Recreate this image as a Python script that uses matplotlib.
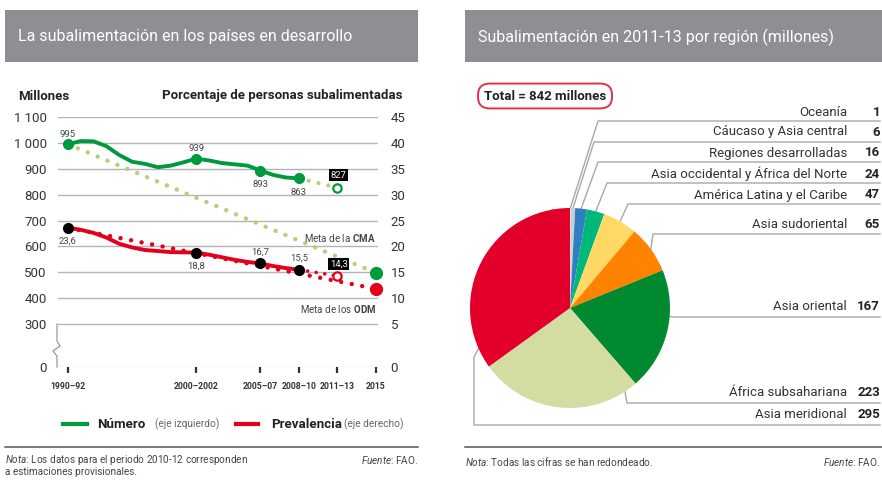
import numpy as np
import matplotlib
matplotlib.use("Agg")
from matplotlib import pyplot as plt
from matplotlib.patches import Rectangle

plt.rcParams['font.family'] = ['Roboto', 'DejaVu Sans']
plt.rcParams['mathtext.fontset'] = 'custom'
plt.rcParams['mathtext.rm'] = 'Roboto'
plt.rcParams['mathtext.it'] = 'Roboto:italic'
plt.rcParams['mathtext.bf'] = 'Roboto:bold'

# ---- left chart data ----
years = [1991, 1992, 1993, 1994, 1995, 1996, 1997, 1998, 1999, 2000,
         2001, 2002, 2003, 2004, 2005, 2006, 2007, 2008, 2009]
numero = [995, 1007, 1006, 987, 953, 927, 919, 906, 912, 925,
          939, 932, 922, 917, 912, 893, 876, 866, 863]
prevalencia = [23.6, 23.2, 22.6, 21.7, 20.5, 19.8, 19.3, 19.1, 18.9, 18.85,
               18.8, 18.4, 17.9, 17.4, 17.0, 16.7, 16.2, 15.8, 15.5]
key_years = [1991, 2001, 2006, 2009]
key_num = [995, 939, 893, 863]
key_prev = [23.6, 18.8, 16.7, 15.5]
proj_years = [2009, 2012]
proj_num = [863, 827]
proj_prev = [15.5, 14.3]
cma_years = [1991, 2015]
cma_num = [995, 498]
odm_years = [1991, 2015]
odm_prev = [23.6, 11.8]
xtick_years = [1991, 2001, 2006, 2009, 2012, 2015]
xtick_labels = ['1990–92', '2000–2002', '2005–07', '2008–10', '2011–13', '2015']
left_ticks = [300, 400, 500, 600, 700, 800, 900, 1000, 1100]
right_ticks = [5, 10, 15, 20, 25, 30, 35, 40, 45]

# ---- pie data ----
regiones = ['Oceanía', 'Cáucaso y Asia central', 'Regiones desarrolladas',
            'Asia occidental y África del Norte', 'América Latina y el Caribe',
            'Asia sudoriental', 'Asia oriental', 'África subsahariana',
            'Asia meridional']
millones = [1, 6, 16, 24, 47, 65, 167, 223, 295]
total = 842
colores = ['#ececec', '#c9ced3', '#2f7fc1', '#00b87a', '#ffd966',
           '#ff8200', '#00892f', '#d3dca2', '#e2002a']

GREEN = '#009a3e'
RED = '#e3001b'
LGREEN = '#b7cf7c'
GRID = '#b4b4b4'

fig = plt.figure(figsize=(8.82, 4.82), dpi=100)
W, H = 882, 482

# overlay in pixel coordinates for headers, notes and leaders
ov = fig.add_axes([0, 0, 1, 1])
ov.set_xlim(0, W)
ov.set_ylim(H, 0)
ov.axis('off')

for x0, x1, title in [(5, 418, 'La subalimentación en los países en desarrollo'),
                      (465, 882, 'Subalimentación en 2011-13 por región (millones)')]:
    ov.add_patch(Rectangle((x0, 10), x1 - x0, 52, facecolor='#8e8f93', edgecolor='none'))
    ov.text(x0 + 13, 37, title, color='white', fontsize=11.5, va='center')

# ---- left line chart ----
Y0 = 134  # position of the broken "0"
ax = fig.add_axes([58 / W, 1 - 367 / H, 320 / W, 250 / H])
ax.patch.set_alpha(0)
ax.set_xlim(1990.22, 2015.16)
ax.set_ylim(Y0, 1100)
for s in ax.spines.values():
    s.set_visible(False)

for v in left_ticks:
    ax.axhline(v, color=GRID, lw=1, zorder=0)
ax.axhline(Y0, color='#a0a0a0', lw=0.8, zorder=0)

ax.set_yticks([Y0] + left_ticks)
ax.set_yticklabels(['0'] + [f'{v:,}'.replace(',', ' ') for v in left_ticks])
ax.tick_params(axis='y', length=0, pad=8, labelsize=9.5, labelcolor='#333333')
ax.set_xticks(xtick_years)
ax.set_xticklabels(xtick_labels, fontsize=6.2, fontweight='bold', color='#333333')
ax.tick_params(axis='x', length=4, width=1.6, color='#333333', pad=7)

ax2 = ax.twinx()
ax2.set_ylim(Y0 / 20 - 10, 1100 / 20 - 10)
for s in ax2.spines.values():
    s.set_visible(False)
ax2.set_yticks([Y0 / 20 - 10] + right_ticks)
ax2.set_yticklabels(['0'] + [str(v) for v in right_ticks])
ax2.tick_params(axis='y', length=0, pad=9, labelsize=9.5, labelcolor='#333333')

dot = dict(linestyle=(0, (0.01, 2.4)), dash_capstyle='round')
ax.plot(cma_years, cma_num, color=LGREEN, lw=3.2, **dot, zorder=2)
ax.plot(proj_years, proj_num, color=LGREEN, lw=3.0, **dot, zorder=2)
ax.plot(years, numero, color=GREEN, lw=2.8, solid_joinstyle='round', zorder=3)
ax.plot(key_years, key_num, 'o', color=GREEN, ms=7, zorder=4)
ax.plot(proj_years[-1:], proj_num[-1:], 'o', mfc='white', mec=GREEN, mew=1.6, ms=6, zorder=5)
ax.plot(cma_years[-1:], cma_num[-1:], 'o', color=GREEN, ms=8.5, zorder=5, clip_on=False)

ax2.plot(odm_years, odm_prev, color=RED, lw=3.2, **dot, zorder=2)
ax2.plot(proj_years, proj_prev, color=RED, lw=2.6, **dot, zorder=2)
ax2.plot(years, prevalencia, color=RED, lw=2.8, solid_joinstyle='round', zorder=3)
ax2.plot(key_years, key_prev, 'o', color='black', ms=7, zorder=4)
ax2.plot(proj_years[-1:], proj_prev[-1:], 'o', mfc='white', mec=RED, mew=1.6, ms=6, zorder=5)
ax2.plot(odm_years[-1:], odm_prev[-1:], 'o', color=RED, ms=8.5, zorder=5, clip_on=False)

lab = dict(fontsize=6.8, color='#444444', ha='center', textcoords='offset points')
for yv, nv, off in zip(key_years, key_num, [7, 7, -10, -10]):
    ax2.annotate(f'{nv}', (yv, nv / 20 - 10), xytext=(0, off),
                 va='center', **lab)
for yv, pv, off in zip(key_years, key_prev, [-10, -10, 8, 8]):
    ax2.annotate(f'{pv}'.replace('.', ','), (yv, pv), xytext=(0, off),
                 va='center', **lab)
box = dict(boxstyle='square,pad=0.15', fc='black', ec='none')
ax.annotate(f'{proj_num[-1]}', (proj_years[-1], proj_num[-1]), xytext=(1, 9),
            textcoords='offset points', ha='center', va='center',
            fontsize=6.8, color='white', bbox=box, zorder=6)
ax2.annotate(f'{proj_prev[-1]}'.replace('.', ','), (proj_years[-1], proj_prev[-1]),
             xytext=(1, 8.5), textcoords='offset points', ha='center', va='center',
             fontsize=6.8, color='white', bbox=box, zorder=6)

ax.text(2015, 632, r'Meta de la$\ \mathbf{CMA}$', ha='right', va='center',
        fontsize=7, color='#444444')
ax.text(2015, 358, r'Meta de los$\ \mathbf{ODM}$', ha='right', va='center',
        fontsize=7, color='#444444')

# axis break
ov.plot([57, 57, 60, 53, 57, 57], [324, 341, 346, 351, 356, 367], color='#999999', lw=0.9)

ov.text(18, 96, 'Millones', fontsize=9.5, fontweight='bold', va='center', color='#222222')
ov.text(403, 96, 'Porcentaje de personas subalimentadas', fontsize=9.5,
        fontweight='bold', va='center', ha='right', color='#222222')

# legend
ov.plot([63, 87], [424, 424], color=GREEN, lw=3)
ov.text(97, 424, 'Número', fontsize=9.6, fontweight='bold', va='center', color='#222222')
ov.text(155, 424, '(eje izquierdo)', fontsize=7.3, va='center', color='#666666')
ov.plot([236, 258], [424, 424], color=RED, lw=3)
ov.text(271, 424, 'Prevalencia', fontsize=9.6, fontweight='bold', va='center', color='#222222')
ov.text(344, 424, '(eje derecho)', fontsize=7.3, va='center', color='#666666')

# footnotes
note = dict(fontsize=7.2, color='#444444', va='center')
ov.plot([5, 418], [447, 447], color='#555555', lw=1.1)
ov.text(5, 460, r'$\it{Nota}$: Los datos para el periodo 2010-12 corresponden', **note)
ov.text(5, 472, 'a estimaciones provisionales.', **note)
ov.text(418, 460, r'$\it{Fuente}$: FAO.', ha='right', **note)
ov.plot([465, 882], [447, 447], color='#555555', lw=1.1)
ov.text(465, 462, r'$\it{Nota}$: Todas las cifras se han redondeado.', **note)
ov.text(880, 462, r'$\it{Fuente}$: FAO.', ha='right', **note)

# ---- pie chart ----
CX, CY, R = 570, 308, 100
axp = fig.add_axes([(CX - R) / W, 1 - (CY + R) / H, 2 * R / W, 2 * R / H])
axp.patch.set_alpha(0)
wedges, _ = axp.pie(millones, colors=colores, startangle=90, counterclock=False,
                    wedgeprops=dict(linewidth=0))
axp.set_xlim(-1, 1)
axp.set_ylim(-1, 1)

ov.text(545, 96, f'Total = {total} millones', fontsize=9.5, fontweight='bold',
        ha='center', va='center', color='#222222',
        bbox=dict(boxstyle='round,pad=0.45,rounding_size=0.9', fc='white',
                  ec='#e0304a', lw=1.4))

# leader layout: anchor fraction inside the wedge, elbow points, label y
anchor_frac = [0.5, 0.5, 0.5, 0.5, 0.5, 0.5, 0.38, 0.08, 0.92]
elbows = [[(598, 121)], [(594, 142)], [(598, 162)], [(607, 183)], [(628, 204)],
          [(653, 234)], [(675, 317)], [(627, 403)], [(474, 357), (474, 425)]]
text_y = [112, 132, 153, 174, 195, 225, 307, 393, 415]
for w, f, el, ty, name, val in zip(wedges, anchor_frac, elbows, text_y, regiones, millones):
    t1, t2 = w.theta1, w.theta2
    th = np.deg2rad(t2 - f * (t2 - t1))
    ax0 = CX + R * np.cos(th)
    ay0 = CY - R * np.sin(th)
    xs = [ax0] + [p[0] for p in el] + [880]
    ys = [ay0] + [p[1] for p in el] + [el[-1][1]]
    ov.plot(xs, ys, color='#a8a8a8', lw=1)
    ov.text(847, ty, name, ha='right', va='center', fontsize=9.5, color='#333333')
    ov.text(880, ty, str(val), ha='right', va='center', fontsize=9.5,
            fontweight='bold', color='#222222')

fig.savefig('out.png', dpi=100)
